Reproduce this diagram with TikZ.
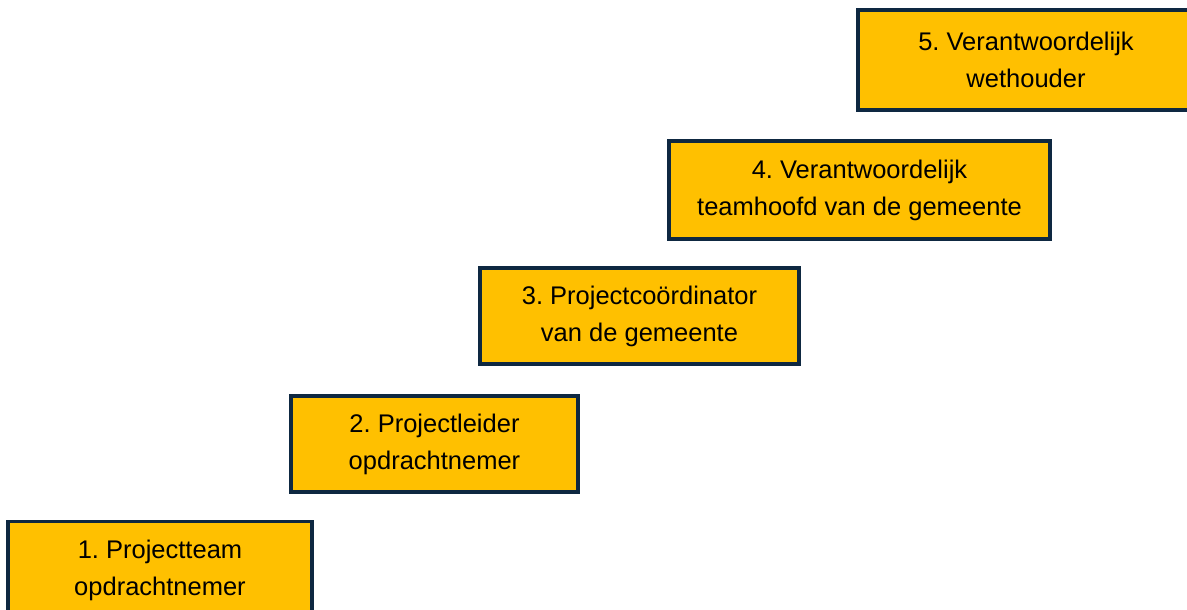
\documentclass[tikz,border=0pt]{standalone}
\usepackage{fontspec}
\setmainfont{Liberation Sans}
\definecolor{boxfill}{HTML}{FFC000}
\definecolor{boxline}{HTML}{0E2841}
\frenchspacing
\begin{document}
\begin{tikzpicture}[x=1pt,y=-1pt,
  stepbox/.style={draw=boxline, fill=boxfill, line width=3.5pt, inner sep=0pt,
    align=center, font=\fontsize{25.5}{37}\selectfont, text=black}]
\useasboundingbox (0,0) rectangle (1187,610);
\clip (0,0) rectangle (1187,610);
\node[stepbox, minimum width=304pt, minimum height=97pt] (s1) at (160,570) {1. Projectteam\\opdrachtnemer};
\node[stepbox, minimum width=287pt, minimum height=96pt] (s2) at (434.5,444) {2. Projectleider\\opdrachtnemer};
\node[stepbox, minimum width=319pt, minimum height=96pt] (s3) at (639.5,316) {3. Projectcoördinator\\van de gemeente};
\node[stepbox, minimum width=381pt, minimum height=98pt] (s4) at (859.5,190) {4. Verantwoordelijk\\teamhoofd van de gemeente};
\node[stepbox, minimum width=336pt, minimum height=100pt] (s5) at (1026,60) {5. Verantwoordelijk\\wethouder};
\end{tikzpicture}
\end{document}
